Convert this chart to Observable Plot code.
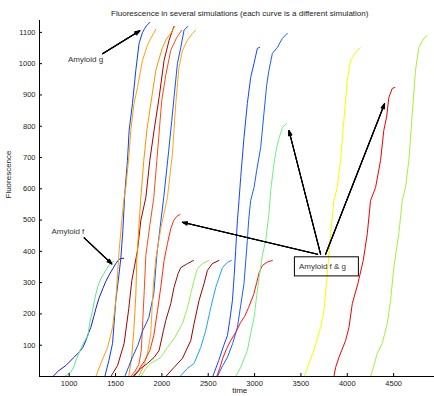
<!DOCTYPE html>
<html><head><meta charset="utf-8">
<script src="https://cdn.jsdelivr.net/npm/d3@7"></script>
<script src="https://cdn.jsdelivr.net/npm/@observablehq/plot@0.6"></script>
<style>
html,body{margin:0;padding:0;overflow:hidden;background:#fff}
#chart svg{max-width:none!important;height:396px!important}
</style>
</head><body><div id="chart"></div>
<script>
// ---- tick labels ----
const xTicks = [1000, 1500, 2000, 2500, 3000, 3500, 4000, 4500];
const yTicks = [100, 200, 300, 400, 500, 600, 700, 800, 900, 1000, 1100];

// ---- curves: time values and fluorescence values ----
const fDarkBlue_t = [824, 889, 964, 1051, 1105, 1148, 1180, 1212, 1234, 1266, 1288, 1320, 1363, 1395, 1428, 1471, 1503, 1536, 1557, 1589];
const fDarkBlue_v = [0, 19, 35, 61, 77, 93, 115, 141, 157, 192, 217, 249, 281, 304, 323, 345, 361, 374, 377, 378];
const fSeaGreen_t = [954, 997, 1018, 1051, 1072, 1105, 1126, 1169, 1202, 1223, 1252, 1277, 1306, 1342, 1374, 1406, 1428, 1460, 1485];
const fSeaGreen_v = [0, 10, 14, 32, 51, 74, 90, 115, 131, 173, 211, 249, 285, 313, 329, 345, 355, 365, 368];
const gBlue1_t = [1385, 1428, 1468, 1503, 1536, 1557, 1579, 1600, 1629, 1647, 1683, 1719, 1754, 1791, 1816, 1837, 1870];
const gBlue1_v = [0, 51, 106, 243, 323, 377, 467, 585, 691, 787, 873, 979, 1065, 1100, 1113, 1122, 1132];
const gOrange1_t = [1288, 1342, 1414, 1468, 1503, 1539, 1568, 1589, 1611, 1647, 1665, 1700, 1737, 1791, 1845, 1880, 1913, 1935];
const gOrange1_v = [0, 42, 93, 157, 243, 403, 499, 563, 604, 713, 787, 873, 924, 1011, 1059, 1081, 1097, 1110];
const gMaroon_t = [1449, 1522, 1593, 1643, 1676, 1737, 1773, 1827, 1870, 1916, 1970, 2024, 2078, 2107, 2131];
const gMaroon_v = [0, 35, 106, 217, 307, 403, 499, 572, 691, 787, 892, 1011, 1075, 1100, 1119];
const gOrange2_t = [1643, 1676, 1697, 1719, 1730, 1773, 1805, 1838, 1881, 1935, 2006, 2053, 2096, 2139];
const gOrange2_v = [0, 67, 147, 259, 377, 572, 691, 787, 873, 979, 1052, 1081, 1097, 1119];
const gOrangeRed_t = [1665, 1708, 1751, 1778, 1794, 1810, 1827, 1870, 1913, 1946, 1981, 1999, 2042, 2096, 2161, 2215];
const gOrangeRed_v = [0, 16, 38, 83, 179, 275, 387, 483, 572, 691, 819, 883, 963, 1043, 1084, 1107];
const gBlue2_t = [1600, 1643, 1686, 1740, 1794, 1859, 1913, 1945, 1977, 2020, 2074, 2107, 2131, 2168, 2204, 2239, 2279];
const gBlue2_v = [0, 32, 64, 99, 147, 188, 265, 387, 467, 572, 723, 819, 892, 1001, 1052, 1107, 1119];
const gOrange3_t = [1751, 1805, 1845, 1880, 1909, 1935, 1988, 2060, 2114, 2150, 2185, 2222, 2276, 2330, 2365];
const gOrange3_v = [0, 35, 74, 138, 297, 377, 473, 572, 713, 873, 988, 1043, 1075, 1097, 1107];
const fgRed1_t = [1686, 1751, 1816, 1870, 1913, 1953, 1988, 2024, 2060, 2096, 2128, 2161, 2196];
const fgRed1_v = [0, 22, 51, 83, 131, 211, 285, 371, 425, 473, 499, 512, 518];
const fMaroon1_t = [1697, 1773, 1845, 1916, 1970, 2017, 2042, 2096, 2131, 2175, 2204, 2276, 2341];
const fMaroon1_v = [0, 26, 42, 61, 83, 147, 179, 233, 285, 329, 348, 361, 371];
const fLightGreen_t = [1773, 1827, 1880, 1988, 2060, 2131, 2222, 2276, 2312, 2347, 2383, 2438, 2509];
const fLightGreen_v = [0, 26, 42, 61, 93, 121, 169, 220, 265, 307, 345, 361, 371];
const fMaroon2_t = [2042, 2131, 2222, 2312, 2347, 2401, 2455, 2491, 2545, 2616];
const fMaroon2_v = [0, 29, 58, 115, 169, 243, 297, 339, 361, 371];
const fSkyBlue_t = [2196, 2276, 2347, 2419, 2473, 2527, 2581, 2653, 2707, 2750];
const fSkyBlue_v = [0, 26, 42, 93, 147, 220, 285, 348, 365, 371];
const gBlue3_t = [2549, 2613, 2667, 2707, 2732, 2761, 2780, 2796, 2815, 2832, 2850, 2886, 2922, 2958, 2994, 3030, 3055];
const gBlue3_v = [0, 51, 99, 131, 179, 243, 323, 403, 499, 563, 636, 764, 873, 956, 1001, 1049, 1052];
const gBlue4_t = [2599, 2656, 2707, 2764, 2815, 2850, 2886, 2922, 2936, 2958, 2994, 3023, 3066, 3101, 3130, 3155, 3192, 3246, 3300, 3353];
const gBlue4_v = [0, 35, 61, 106, 157, 227, 297, 435, 499, 563, 604, 659, 732, 841, 930, 979, 1033, 1052, 1081, 1097];
const fRed2_t = [2592, 2624, 2656, 2700, 2743, 2796, 2850, 2893, 2936, 2990, 3023, 3050, 3084, 3138, 3192];
const fRed2_v = [0, 26, 58, 90, 115, 141, 173, 192, 221, 262, 300, 333, 355, 366, 371];
const fgGreen_t = [2796, 2850, 2922, 2958, 2994, 3023, 3048, 3084, 3120, 3155, 3174, 3209, 3238, 3263, 3300, 3346];
const fgGreen_v = [0, 29, 83, 138, 188, 259, 316, 387, 435, 521, 595, 681, 732, 761, 796, 809];
const gYellow_t = [3532, 3561, 3586, 3640, 3712, 3748, 3785, 3820, 3856, 3892, 3928, 3963, 4000, 4036, 4090, 4143];
const gYellow_v = [0, 19, 42, 83, 157, 211, 329, 457, 563, 604, 691, 819, 947, 1011, 1036, 1052];
const fgRed3_t = [3856, 3874, 3910, 3982, 4018, 4054, 4114, 4172, 4216, 4251, 4305, 4359, 4394, 4424, 4448, 4485, 4513];
const fgRed3_v = [0, 29, 61, 115, 157, 233, 297, 371, 457, 563, 604, 691, 787, 829, 892, 921, 924];
const gLime_t = [4251, 4284, 4323, 4377, 4431, 4467, 4502, 4556, 4593, 4628, 4664, 4701, 4736, 4772, 4826, 4862];
const gLime_v = [0, 32, 74, 106, 169, 243, 349, 457, 563, 604, 691, 841, 979, 1052, 1081, 1090];

// ---- annotations ----
const labelTexts = ["Amyloid g", "Amyloid f"];
const labelX = [1177, 986];
const labelY = [1012, 464];
const arrowFromX = [1360, 1162, 3680, 3712, 3766];
const arrowFromY = [1032, 443, 391, 391, 391];
const arrowToX = [1762, 1460, 2222, 3371, 4402];
const arrowToY = [1105, 360, 493, 786, 872];
const boxText = "Amyloid f & g";
const boxX = [3435, 4125];
const boxY = [320, 381];
const titleText = "Fluorescence in several simulations (each curve is a different simulation)";
const xLabel = "time";
const yLabel = "Fluorescence";

// ---- series table + styles ----
const series = [
  [fDarkBlue_t, fDarkBlue_v], [fSeaGreen_t, fSeaGreen_v], [gBlue1_t, gBlue1_v], [gOrange1_t, gOrange1_v],
  [gMaroon_t, gMaroon_v], [gOrange2_t, gOrange2_v], [gOrangeRed_t, gOrangeRed_v], [gBlue2_t, gBlue2_v],
  [gOrange3_t, gOrange3_v], [fgRed1_t, fgRed1_v], [fMaroon1_t, fMaroon1_v], [fLightGreen_t, fLightGreen_v],
  [fMaroon2_t, fMaroon2_v], [fSkyBlue_t, fSkyBlue_v], [gBlue3_t, gBlue3_v], [gBlue4_t, gBlue4_v],
  [fRed2_t, fRed2_v], [fgGreen_t, fgGreen_v], [gYellow_t, gYellow_v], [fgRed3_t, fgRed3_v], [gLime_t, gLime_v]
];
const seriesColors = [
  "#1c1cc4", "#5be88c", "#0a3cff", "#ffa000",
  "#a80000", "#ff9000", "#ff4a10", "#1050ff",
  "#ffa31c", "#ff2a0a", "#980808", "#98ee50",
  "#9a0000", "#1ea0ff", "#1146ff", "#1a5cff",
  "#ff1010", "#72ef80", "#fafa00", "#ee0000", "#a6f03a"
];

const lineMarks = series.map(([ts, vs], i) =>
  Plot.line(ts.map((t, j) => ({t, v: vs[j]})), {x: "t", y: "v", stroke: seriesColors[i], strokeWidth: 1})
);

const arrows = arrowFromX.map((x1, i) => ({x1, y1: arrowFromY[i], x2: arrowToX[i], y2: arrowToY[i]}));
const labels = labelTexts.map((text, i) => ({text, x: labelX[i], y: labelY[i]}));

const W = 440, H = 396, ML = 39, MR = 0.5, MT = 20, MB = 20;
const chart = Plot.plot({
  width: W, height: H,
  marginLeft: ML, marginRight: MR, marginTop: MT, marginBottom: MB,
  x: {domain: [680, 5000], axis: null},
  y: {domain: [0, 1138], axis: null},
  style: {fontFamily: "'Liberation Sans', Arial, sans-serif", fontSize: "7.5px", background: "white", color: "#222", overflow: "visible"},
  marks: [
    ...lineMarks,
    Plot.ruleX([680], {stroke: "black", strokeWidth: 1}),
    Plot.ruleY([0], {stroke: "black", strokeWidth: 1}),
    Plot.tickX(xTicks, {x: d => d, stroke: "black", insetTop: (H - MT - MB) - 3}),
    Plot.tickY(yTicks, {y: d => d, stroke: "black", insetRight: (W - ML - MR) - 3}),
    Plot.axisX({ticks: xTicks, tickSize: 0, tickPadding: 4, tickFormat: d3.format("d"), label: null, fill: "#222"}),
    Plot.axisY({ticks: yTicks, tickSize: 0, tickPadding: 4, tickFormat: d3.format("d"), label: null, fill: "#222"}),
    Plot.text([titleText], {frameAnchor: "top", dy: -10, fontSize: 8, fill: "#222"}),
    Plot.text([xLabel], {frameAnchor: "bottom", dy: 16, fontSize: 8, fill: "#222"}),
    Plot.text([yLabel], {frameAnchor: "left", dx: -31, rotate: -90, fontSize: 8, fill: "#222"}),
    ...[40, 28, 16].map(a => Plot.arrow(arrows, {x1: "x1", y1: "y1", x2: "x2", y2: "y2", stroke: "black", strokeWidth: 1.1, headLength: 7, headAngle: a})),
    Plot.text(labels, {x: "x", y: "y", text: "text", fontSize: 8, fill: "#333"}),
    Plot.rect([{x1: boxX[0], x2: boxX[1], y1: boxY[0], y2: boxY[1]}], {x1: "x1", x2: "x2", y1: "y1", y2: "y2", fill: "none", stroke: "black", strokeWidth: 1}),
    Plot.text([boxText], {x: boxX[0], y: (boxY[0] + boxY[1]) / 2, dx: 4, textAnchor: "start", fontSize: 8, fill: "#333"})
  ]
});
document.getElementById("chart").appendChild(chart);
</script>
</body></html>
